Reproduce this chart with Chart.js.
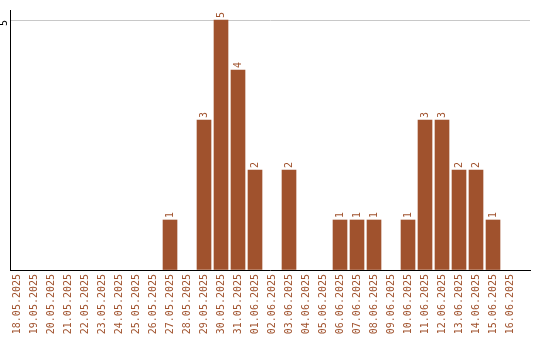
<!DOCTYPE html>
<html>
<head>
<meta charset="utf-8">
<script src="https://cdn.jsdelivr.net/npm/chart.js@4/dist/chart.umd.min.js"></script>
<style>
  html, body { margin: 0; padding: 0; background: #fff; }
  #wrap { width: 540px; height: 340px; }
</style>
</head>
<body>
<div id="wrap"><canvas id="chart"></canvas></div>
<script>
const DATES = [
  '18.05.2025', '19.05.2025', '20.05.2025', '21.05.2025', '22.05.2025',
  '23.05.2025', '24.05.2025', '25.05.2025', '26.05.2025', '27.05.2025',
  '28.05.2025', '29.05.2025', '30.05.2025', '31.05.2025', '01.06.2025',
  '02.06.2025', '03.06.2025', '04.06.2025', '05.06.2025', '06.06.2025',
  '07.06.2025', '08.06.2025', '09.06.2025', '10.06.2025', '11.06.2025',
  '12.06.2025', '13.06.2025', '14.06.2025', '15.06.2025', '16.06.2025'
];
const COUNTS = [
  0, 0, 0, 0, 0, 0, 0, 0, 0, 1,
  0, 3, 5, 4, 2, 0, 2, 0, 0, 1,
  1, 1, 0, 1, 3, 3, 2, 2, 1, 0
];
const Y_TICKS = [0, 5];

const BAR = '#a0522d';
const FONT = "'DejaVu Sans Mono', monospace";

// labels drawn rotated: bar values and the single y tick
const rotatedLabels = {
  id: 'rotatedLabels',
  afterDatasetsDraw(chart) {
    const ctx = chart.ctx;
    const meta = chart.getDatasetMeta(0);
    ctx.save();
    ctx.font = '10px ' + FONT;
    ctx.fillStyle = BAR;
    ctx.textAlign = 'left';
    ctx.textBaseline = 'middle';
    meta.data.forEach((bar, i) => {
      if (!COUNTS[i]) return;
      ctx.save();
      ctx.translate(bar.x, bar.y - 2);
      ctx.rotate(-Math.PI / 2);
      ctx.fillText(String(COUNTS[i]), 0, 0);
      ctx.restore();
    });
    const y = chart.scales.y;
    ctx.fillStyle = '#000';
    ctx.textAlign = 'right';
    Y_TICKS.filter(v => v > 0).forEach(v => {
      ctx.save();
      ctx.translate(4, y.getPixelForValue(v));
      ctx.rotate(-Math.PI / 2);
      ctx.fillText(String(v), 0, 0);
      ctx.restore();
    });
    ctx.restore();
  }
};

new Chart(document.getElementById('chart'), {
  type: 'bar',
  data: {
    datasets: [{
      data: COUNTS.map((v, i) => ({ x: i, y: v || null })),
      backgroundColor: BAR,
      borderWidth: 0,
      barThickness: 14,
    }]
  },
  options: {
    responsive: true,
    maintainAspectRatio: false,
    animation: false,
    layout: { padding: { left: 10, right: 10, top: 10, bottom: 0 } },
    plugins: {
      legend: { display: false },
      tooltip: { enabled: false }
    },
    scales: {
      x: {
        type: 'linear',
        offset: false,
        min: -0.412,
        max: 30.176,
        afterBuildTicks: s => { s.ticks = DATES.map((_, i) => ({ value: i })); },
        afterFit: s => { s.height = 70; s.paddingLeft = 0; s.paddingRight = 0; },
        grid: { display: false, drawTicks: false, offset: false },
        border: { color: '#000', width: 1 },
        ticks: {
          autoSkip: false,
          minRotation: 90,
          maxRotation: 90,
          padding: 4,
          color: BAR,
          font: { family: FONT, size: 10 },
          callback: v => DATES[v] || ''
        }
      },
      y: {
        min: 0,
        max: 5.2,
        afterBuildTicks: s => { s.ticks = Y_TICKS.map(v => ({ value: v })); },
        afterFit: s => { s.width = 0; },
        grid: {
          drawTicks: false,
          color: c => (c.tick && c.tick.value === 5 ? '#c8c8c8' : 'rgba(0,0,0,0)')
        },
        border: { color: '#000', width: 1 },
        ticks: { display: false }
      }
    }
  },
  plugins: [rotatedLabels]
});
</script>
</body>
</html>
